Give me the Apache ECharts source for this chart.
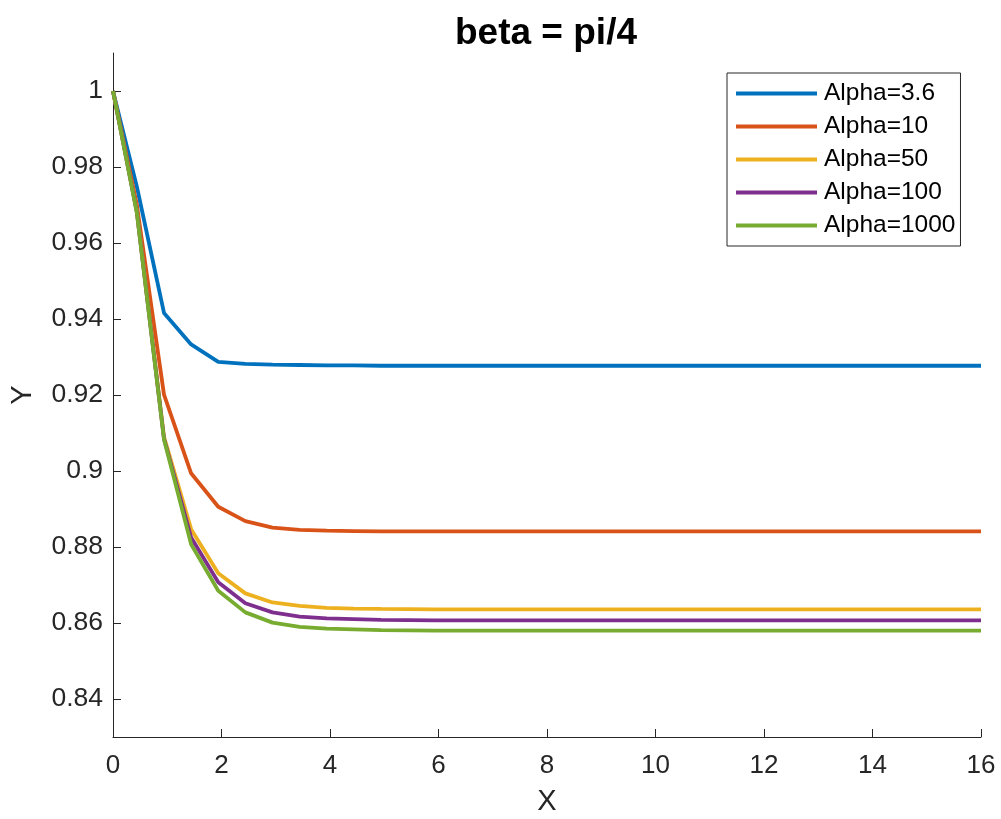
<!DOCTYPE html>
<html>
<head>
<meta charset="utf-8">
<script src="https://cdn.jsdelivr.net/npm/echarts@6/dist/echarts.min.js"></script>
<style>
html,body{margin:0;padding:0;background:#fff;}
#c{width:1001px;height:819px;}
</style>
</head>
<body>
<div id="c"></div>
<script>
const xs = [0, 0.44, 0.94, 1.44, 1.94, 2.44, 2.94, 3.44, 3.94, 4.44, 4.94, 5.94, 7.94, 9.94, 11.94, 13.94, 16];
const alpha3_6 = [1, 0.9748, 0.9416, 0.9333, 0.9287, 0.9282, 0.9280, 0.9279, 0.9278, 0.9278, 0.9277, 0.9277, 0.9277, 0.9277, 0.9277, 0.9277, 0.9277];
const alpha10 = [1, 0.9700, 0.9201, 0.8994, 0.8906, 0.8868, 0.8851, 0.8845, 0.8843, 0.8842, 0.8841, 0.8841, 0.8841, 0.8841, 0.8841, 0.8841, 0.8841];
const alpha50 = [1, 0.9683, 0.9090, 0.8847, 0.8731, 0.8678, 0.8654, 0.8645, 0.8640, 0.8638, 0.8637, 0.8636, 0.8636, 0.8636, 0.8636, 0.8636, 0.8636];
const alpha100 = [1, 0.9681, 0.9085, 0.8825, 0.8707, 0.8652, 0.8628, 0.8617, 0.8612, 0.8610, 0.8608, 0.8607, 0.8607, 0.8607, 0.8607, 0.8607, 0.8607];
const alpha1000 = [1, 0.9679, 0.9083, 0.8807, 0.8685, 0.8628, 0.8601, 0.8590, 0.8585, 0.8583, 0.8581, 0.8580, 0.8580, 0.8580, 0.8580, 0.8580, 0.8580];
const seriesNames = ['Alpha=3.6', 'Alpha=10', 'Alpha=50', 'Alpha=100', 'Alpha=1000'];
const yTicks = [0.84, 0.86, 0.88, 0.9, 0.92, 0.94, 0.96, 0.98, 1];
const xTicks = [0, 2, 4, 6, 8, 10, 12, 14, 16];

const colors = ['#0072BD', '#D95319', '#EDB120', '#7E2F8E', '#77AC30'];
const allY = [alpha3_6, alpha10, alpha50, alpha100, alpha1000];
const FONT = 'Liberation Sans, Arial, sans-serif';
const axisColor = '#262626';

const chart = echarts.init(document.getElementById('c'), null, {renderer: 'canvas'});
chart.setOption({
  animation: false,
  backgroundColor: '#ffffff',
  color: colors,
  title: {
    text: 'beta = pi/4',
    left: 541,
    top: 10,
    textAlign: 'center',
    textStyle: {fontFamily: FONT, fontSize: 37, fontWeight: 'bold', color: '#000'}
  },
  grid: {left: 113, right: 20, top: 53, bottom: 82, containLabel: false, outerBoundsMode: 'none'},
  legend: {
    orient: 'vertical',
    left: 727,
    top: 73,
    data: seriesNames,
    icon: 'rect',
    itemWidth: 81,
    itemHeight: 4,
    itemGap: 8,
    padding: [8, 5, 8, 9],
    borderColor: axisColor,
    borderWidth: 1,
    backgroundColor: '#fff',
    textStyle: {fontFamily: FONT, fontSize: 24.5, color: '#000', padding: [0, 0, 0, 2]}
  },
  xAxis: {
    type: 'value',
    min: 0, max: 16, interval: 2,
    name: 'X',
    nameLocation: 'middle',
    nameGap: 50,
    nameTextStyle: {fontFamily: FONT, fontSize: 29, color: axisColor},
    axisLine: {show: true, onZero: false, lineStyle: {color: axisColor, width: 1}},
    axisTick: {show: true, inside: true, length: 8, lineStyle: {color: axisColor}, customValues: xTicks},
    axisLabel: {fontFamily: FONT, fontSize: 26, color: axisColor, margin: 16, customValues: xTicks},
    splitLine: {show: false}
  },
  yAxis: {
    type: 'value',
    min: 0.83, max: 1.01,
    name: 'Y',
    nameLocation: 'middle',
    nameGap: 76,
    nameTextStyle: {fontFamily: FONT, fontSize: 29, color: axisColor},
    axisLine: {show: true, onZero: false, lineStyle: {color: axisColor, width: 1}},
    axisTick: {show: true, inside: true, length: 8, lineStyle: {color: axisColor}, customValues: yTicks},
    axisLabel: {fontFamily: FONT, fontSize: 26.5, color: axisColor, margin: 10, customValues: yTicks},
    splitLine: {show: false}
  },
  series: seriesNames.map((n, k) => ({
    name: n,
    type: 'line',
    showSymbol: false,
    symbol: 'none',
    lineStyle: {width: 3.8, color: colors[k]},
    itemStyle: {color: colors[k]},
    data: xs.map((x, i) => [x, allY[k][i]]),
    z: 2 + k
  }))
});
</script>
</body>
</html>
